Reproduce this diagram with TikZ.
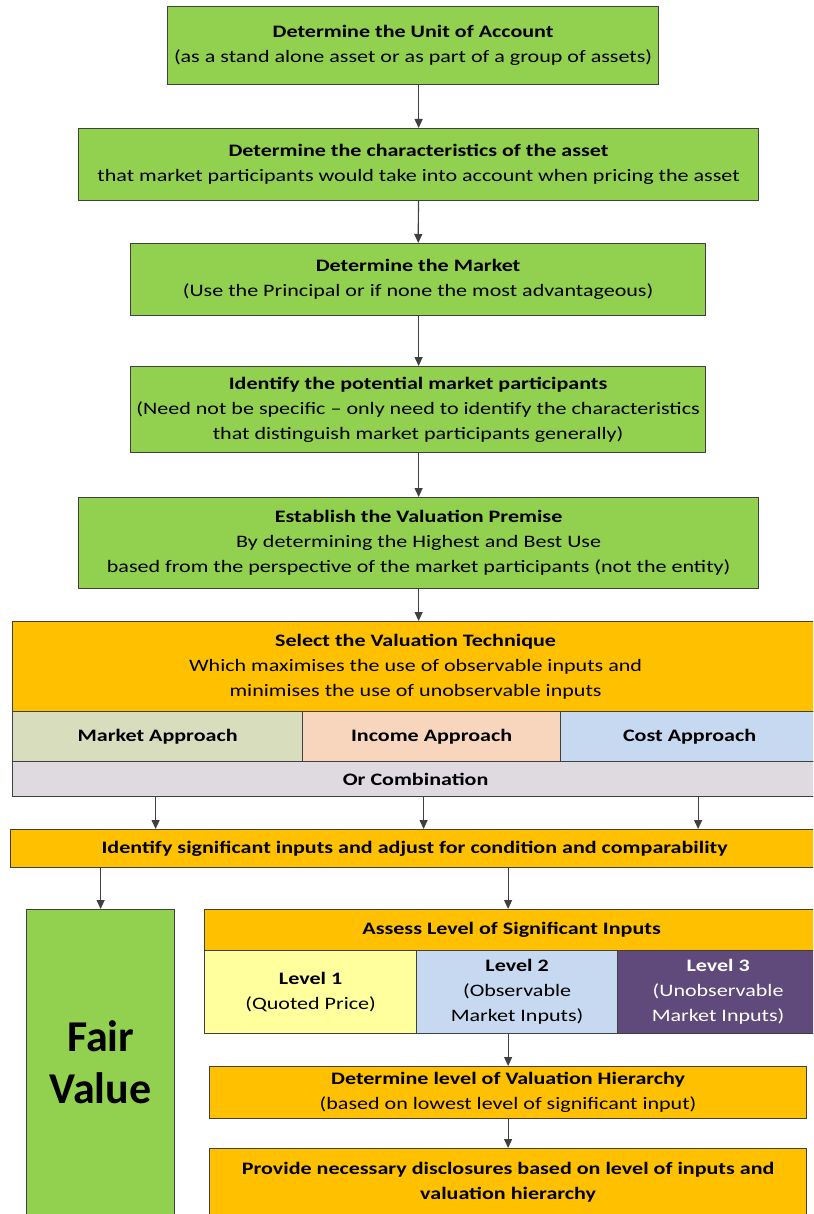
\documentclass[tikz,border=0pt]{standalone}
\usepackage{fontspec}
\setmainfont{Carlito}[FakeStretch=1.26]
\newfontfamily\fairfont{Carlito}
\usetikzlibrary{arrows.meta,positioning}

\definecolor{stepgreen}{HTML}{92D050}
\definecolor{steporange}{HTML}{FFC000}
\definecolor{mktcol}{HTML}{D8DDBE}
\definecolor{inccol}{HTML}{F8D6BD}
\definecolor{costcol}{HTML}{C6D9F0}
\definecolor{combcol}{HTML}{DEDADF}
\definecolor{lvlone}{HTML}{FFFF9E}
\definecolor{lvltwo}{HTML}{C6D9F0}
\definecolor{lvlthree}{HTML}{604A7B}
\definecolor{edgegray}{HTML}{404040}

\begin{document}
\begin{tikzpicture}[
  x=1pt,y=-1pt,
  every node/.style={draw=edgegray,line width=1.2pt,anchor=north west,align=center,
    inner sep=2pt,font=\fontsize{17.5}{25}\selectfont},
  greenbox/.style={fill=stepgreen},
  orangebox/.style={fill=steporange},
  arr/.style={draw=edgegray,line width=1.2pt,-{Triangle[length=9pt,width=8pt]}}
]
\useasboundingbox (0,0) rectangle (813,1214);
\clip (0,0) rectangle (813,1214);

% steps in green
\node[greenbox,minimum width=491pt,minimum height=78pt] (unit) at (167,6)
  {\textbf{Determine the Unit of Account}\\(as a stand alone asset or as part of a group of assets)};
\node[greenbox,minimum width=680pt,minimum height=72pt] (chars) at (78,128)
  {\textbf{Determine the characteristics of the asset}\\that market participants would take into account when pricing the asset};
\node[greenbox,minimum width=575pt,minimum height=72pt] (market) at (130,243)
  {\textbf{Determine the Market}\\(Use the Principal or if none the most advantageous)};
\node[greenbox,minimum width=575pt,minimum height=86pt] (partic) at (130,366)
  {\textbf{Identify the potential market participants}\\(Need not be specific -- only need to identify the characteristics\\that distinguish market participants generally)};
\node[greenbox,minimum width=680pt,minimum height=91pt] (premise) at (78,497)
  {\textbf{Establish the Valuation Premise}\\By determining the Highest and Best Use\\based from the perspective of the market participants (not the entity)};

% valuation technique
\node[orangebox,minimum width=806pt,minimum height=90pt] (tech) at (12,621)
  {\textbf{Select the Valuation Technique}\\Which maximises the use of observable inputs and\\minimises the use of unobservable inputs};
\node[fill=mktcol,minimum width=290pt,minimum height=50pt] (mkt) at (12,711) {\textbf{Market Approach}};
\node[fill=inccol,minimum width=258pt,minimum height=50pt] (inc) at (302,711) {\textbf{Income Approach}};
\node[fill=costcol,minimum width=258pt,minimum height=50pt] (cost) at (560,711) {\textbf{Cost Approach}};
\node[fill=combcol,minimum width=806pt,minimum height=35pt] (comb) at (12,761) {\textbf{Or Combination}};

\node[orangebox,minimum width=808pt,minimum height=38pt] (ident) at (10,829)
  {\textbf{Identify significant inputs and adjust for condition and comparability}};

% fair value column
\node[greenbox,minimum width=148pt,minimum height=306pt,font=\fairfont\fontsize{44}{52}\selectfont\bfseries] (fair) at (26,909)
  {Fair\\Value};

% levels
\node[orangebox,minimum width=614pt,minimum height=41pt] (assess) at (204,909)
  {\textbf{Assess Level of Significant Inputs}};
\node[fill=lvlone,minimum width=212pt,minimum height=83pt] (lone) at (204,950)
  {\textbf{Level 1}\\(Quoted Price)};
\node[fill=lvltwo,minimum width=201pt,minimum height=83pt] (ltwo) at (416,950)
  {\textbf{Level 2}\\(Observable\\Market Inputs)};
\node[fill=lvlthree,text=white,minimum width=201pt,minimum height=83pt] (lthree) at (617,950)
  {\textbf{Level 3}\\(Unobservable\\Market Inputs)};

\node[orangebox,minimum width=597pt,minimum height=52pt] (hier) at (209,1066)
  {\textbf{Determine level of Valuation Hierarchy}\\(based on lowest level of significant input)};
\node[orangebox,minimum width=597pt,minimum height=68pt] (disc) at (209,1148)
  {\textbf{Provide necessary disclosures based on level of inputs and}\\\textbf{valuation hierarchy}};

% arrows
\draw[arr] (unit.south -| chars.north) -- (chars.north);
\draw[arr] (chars) -- (market);
\draw[arr] (market.south -| chars.north) -- (partic.north -| chars.north);
\draw[arr] (partic.south -| chars.north) -- (premise.north);
\draw[arr] (premise.south) -- (tech.north -| premise.south);
\draw[arr] ([xshift=-2pt]comb.south -| mkt.south) -- ([xshift=-2pt]ident.north -| mkt.south);
\draw[arr] ([xshift=-8pt]comb.south -| inc.south) -- ([xshift=-8pt]ident.north -| inc.south);
\draw[arr] ([xshift=8.5pt]comb.south -| cost.south) -- ([xshift=8.5pt]ident.north -| cost.south);
\draw[arr] (ident.south -| fair.north) -- (fair.north);
\draw[arr] (ident.south -| hier.north) -- (assess.north -| hier.north);
\draw[arr] (ltwo.south -| hier.north) -- (hier.north);
\draw[arr] (hier) -- (disc);
\end{tikzpicture}
\end{document}
